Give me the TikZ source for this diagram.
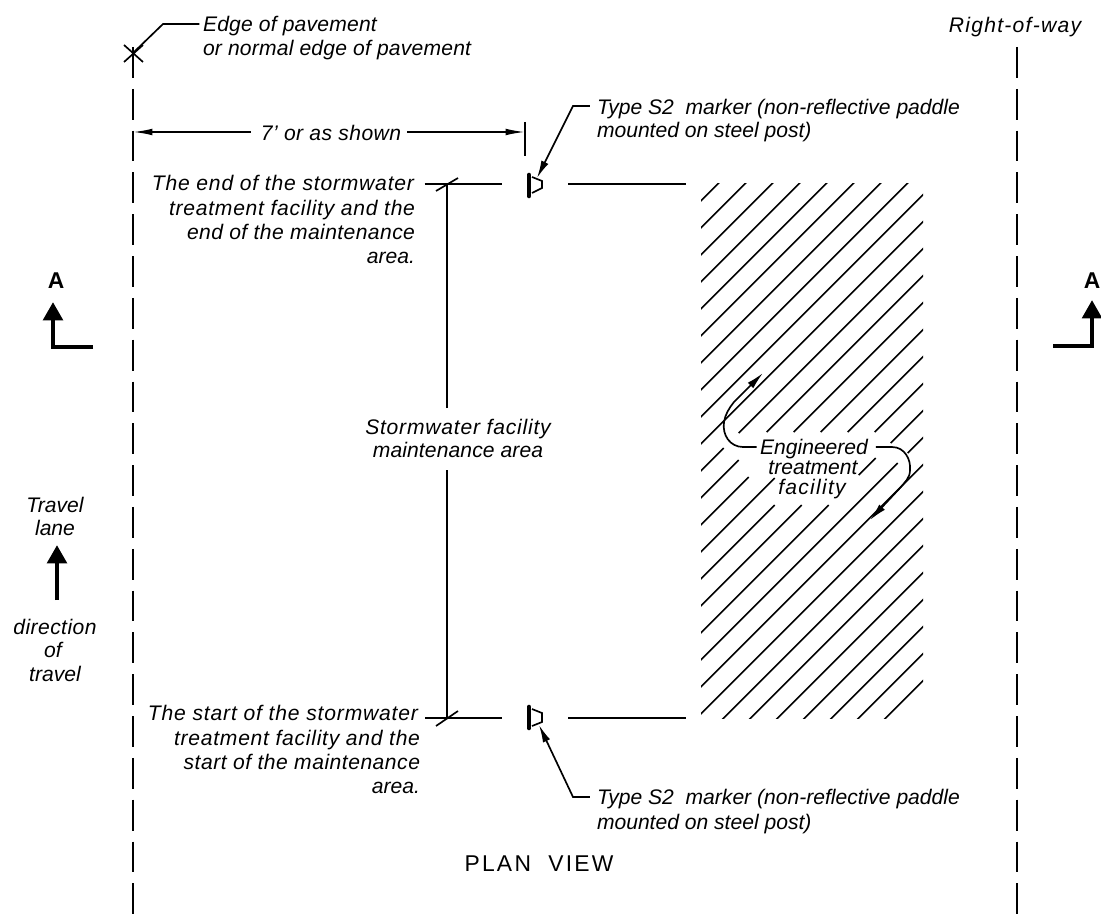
\documentclass[tikz,border=0pt]{standalone}
\usepackage{fontspec}
\setmainfont{Liberation Sans}
\usetikzlibrary{arrows.meta}
\tikzset{
  lbl/.style={inner sep=0pt,outer sep=0pt,yshift=-1.1pt,text height=8.6pt,text depth=2.4pt,font=\fontsize{12}{13.8}\selectfont\itshape},
  wide/.style={font=\fontsize{12}{13.8}\selectfont\itshape\addfontfeature{LetterSpace=#1}},
  lblr/.style={lbl,anchor=east},
  lbll/.style={lbl,anchor=west},
  thin line/.style={line width=0.95pt},
  limit/.style={thin line,dash pattern=on 17.57pt off 6.23pt},
  dim/.style={thin line,-{Latex[length=11pt,width=3.8pt]}},
  lead/.style={thin line,-{Latex[length=10pt,width=4.4pt]}},
  bold arrow/.style={line width=2.6pt,-{Triangle[length=10.5pt,width=11pt]}},
  section/.style={inner sep=0pt,font=\fontsize{13}{15}\selectfont\bfseries}
}
\begin{document}
\begin{tikzpicture}[x=0.02cm,y=-0.02cm]
        \useasboundingbox (0,0) rectangle (1101,915);
        %limiti
        \coordinate (edgetop) at (133,47);
        \coordinate (edgebot) at (133,915);
        \coordinate (waytop) at (1017,47);
        \coordinate (waybot) at (1017,915);
        \draw[limit] (edgetop) -- (edgebot);
        \draw[limit] (waytop) -- (waybot);
        \node[lbl,wide=6] (waytxt) at (1015,25) {Right-of-way};
        %bordo pavimentazione
        \coordinate (edgex) at (133,53);
        \coordinate (edgebend) at (163,24);
        \draw[thin line] (124,45) -- (143,62);
        \draw[thin line] (143,45) -- (124,62);
        \node[lbll,wide=1] (edgetxta) at (203,24) {Edge of pavement};
        \node[lbll,wide=1] (edgetxtb) at (203,48) {or normal edge of pavement};
        \draw[thin line,shorten <=2pt] (edgetxta.west |- edgebend) -- (edgebend) -- (edgex);
        %quota
        \coordinate (dimleft) at (133,132);
        \coordinate (dimright) at (525,132);
        \coordinate (dimtop) at (525,122);
        \coordinate (dimbot) at (525,156);
        \node[lbl,wide=2] (dimtxt) at (331,133) {7' or as shown};
        \draw[dim,shorten <=5.7pt] (dimtxt.west |- dimleft) -- (dimleft);
        \draw[dim,shorten <=3.4pt] (dimtxt.east |- dimright) -- (dimright);
        \draw[thin line] (dimtop) -- (dimbot);
        %segnali
        \coordinate (topbara) at (529,175);
        \coordinate (topbarb) at (529,196);
        \coordinate (botbara) at (529,707);
        \coordinate (botbarb) at (529,728);
        \draw[line width=2.6pt,line cap=round] (topbara) -- (topbarb);
        \draw[line width=2.6pt,line cap=round] (botbara) -- (botbarb);
        \draw[thin line] (532,177) -- (542,181) -- (542,188) -- (532,193);
        \draw[thin line] (532,709) -- (542,713) -- (542,722) -- (532,726);
        \node[lbll] (toptxta) at (597,107) {Type S2 \ marker (non-reflective paddle};
        \node[lbll] (toptxtb) at (597,130) {mounted on steel post)};
        \node[lbll] (bottxta) at (597,797) {Type S2 \ marker (non-reflective paddle};
        \node[lbll] (bottxtb) at (597,822) {mounted on steel post)};
        \coordinate (toptip) at (537,178);
        \coordinate (topbend) at (573,106);
        \coordinate (bottip) at (539,725);
        \coordinate (botbend) at (573,797);
        \draw[lead,shorten <=4pt] (toptxta.west |- topbend) -- (topbend) -- (toptip);
        \draw[lead,shorten <=4pt] (bottxta.west |- botbend) -- (botbend) -- (bottip);
        %inizio e fine area
        \node[lblr,wide=3.8] (endtxta) at (414,183) {The end of the stormwater};
        \node[lblr,wide=3.5] (endtxtb) at (415,208) {treatment facility and the};
        \node[lblr,wide=2] (endtxtc) at (415,232) {end of the maintenance};
        \node[lblr] (endtxtd) at (415,256) {area.};
        \node[lblr,wide=3.9] (starttxta) at (418,713) {The start of the stormwater};
        \node[lblr,wide=3.5] (starttxtb) at (420,738) {treatment facility and the};
        \node[lblr,wide=2.4] (starttxtc) at (420,762) {start of the maintenance};
        \node[lblr] (starttxtd) at (420,786) {area.};
        \coordinate (endgap) at (502,184);
        \coordinate (startgap) at (502,718);
        \coordinate (endfar) at (686,184);
        \coordinate (endnear) at (568,184);
        \coordinate (startfar) at (686,718);
        \coordinate (startnear) at (568,718);
        \draw[thin line,shorten <=6pt] (endtxta.east |- endgap) -- (endgap);
        \draw[thin line,shorten <=4pt] (starttxta.east |- startgap) -- (startgap);
        \draw[thin line] (endnear) -- (endfar);
        \draw[thin line] (startnear) -- (startfar);
        \draw[thin line] (436,191) -- (458,178);
        \draw[thin line] (436,726) -- (458,711);
        \node[lbl,wide=3.7] (areatxta) at (458,427) {Stormwater facility};
        \node[lbl,wide=0.5] (areatxtb) at (458,450) {maintenance area};
        \coordinate (areatop) at (447,184);
        \coordinate (areabot) at (447,718);
        \coordinate (areaupper) at (447,408);
        \coordinate (arealower) at (447,470);
        \draw[thin line] (areaupper) -- (areatop);
        \draw[thin line] (arealower) -- (areabot);
        %tratteggio
        \begin{scope}
            \clip (701,184) rectangle (923,718);
            \foreach \k/\ya/\yb in {0/100/800,1/100/800,2/100/800,3/100/800,4/100/800,5/100/800,
                6/100/800,7/100/800,8/100/800,9/100/800,
                10/100/433,10/448/800,11/100/432,11/460/800,12/100/432,12/477/800,
                13/100/432,13/478/800,14/100/432,14/505/800,15/100/432,15/505/800,
                16/100/443,16/458/475,16/505/800,17/100/453,17/463/800,
                18/100/800,19/100/800,20/100/800,21/100/800,22/100/800,23/100/800,
                24/100/800,25/100/800,26/100/800}
                \draw[thin line] ({901.7+27*\k-\ya},\ya) -- ({901.7+27*\k-\yb},\yb);
        \end{scope}
        %impianto
        \node[lbl] (engtxta) at (814,447) {Engineered};
        \node[lbl] (engtxtb) at (813,467) {treatment};
        \node[lbl,wide=6] (engtxtc) at (812,487) {facility};
        \coordinate (engtipa) at (763,373);
        \coordinate (engtipb) at (870,520);
        \coordinate (engbenda) at (743,447);
        \coordinate (engbendb) at (892,447);
        \draw[lead,shorten <=2pt] (engtxta.west |- engbenda) -- (engbenda) .. controls (730,447) and (722,435) .. (724,422)
            .. controls (725,415) and (729,408) .. (734,402) -- (engtipa);
        \draw[lead,shorten <=4.5pt] (engtxta.east |- engbendb) -- (engbendb) .. controls (905,447) and (911,460) .. (910,470)
            .. controls (910,478) and (905,482) .. (900,488) -- (engtipb);
        %sezione A
        \node[section] (secleft) at (56,281) {A};
        \node[section] (secright) at (1092,281) {A};
        \coordinate (secleftend) at (93,347);
        \coordinate (secleftbend) at (53,347);
        \coordinate (seclefttip) at (53,302);
        \coordinate (secrightend) at (1053,346);
        \coordinate (secrightbend) at (1092,346);
        \coordinate (secrighttip) at (1092,300);
        \draw[bold arrow] (secleftend) -- (secleftbend) -- (seclefttip);
        \draw[bold arrow] (secrightend) -- (secrightbend) -- (secrighttip);
        %senso di marcia
        \node[lbl] (lanetxta) at (55,505) {Travel};
        \node[lbl] (lanetxtb) at (55,528) {lane};
        \node[lbl,wide=2] (dirtxta) at (55,627) {direction};
        \node[lbl] (dirtxtb) at (53,650) {of};
        \node[lbl] (dirtxtc) at (55,674) {travel};
        \coordinate (dirtail) at (57,600);
        \coordinate (dirtip) at (57,545);
        \draw[bold arrow] (dirtail) -- (dirtip);
        %titolo
        \node[inner sep=0pt,font=\fontsize{13}{15}\selectfont\addfontfeature{LetterSpace=10}] (plantxt) at (539,864) {PLAN \ VIEW};
    \end{tikzpicture}
\end{document}
